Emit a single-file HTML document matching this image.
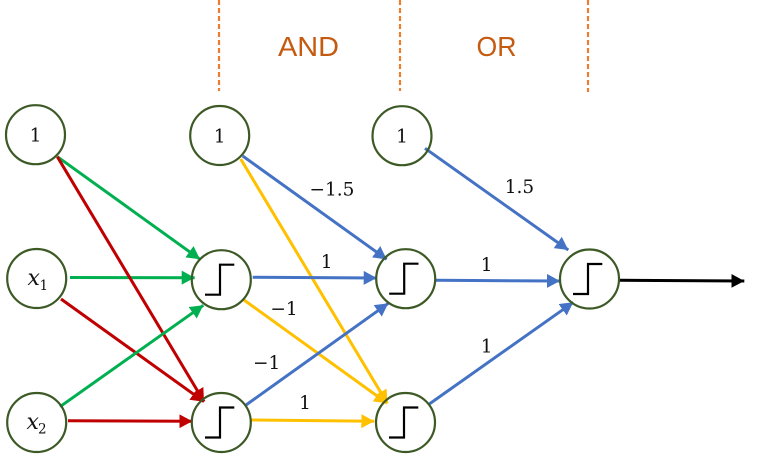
<!DOCTYPE html>
<html>
<head>
<meta charset="utf-8">
<style>
html,body{margin:0;padding:0;background:#fff;width:758px;height:469px;overflow:hidden}
svg{display:block}
.n{fill:none;stroke:#3d5a26;stroke-width:2.2}
.s{fill:none;stroke:#000;stroke-width:2.2}
.m{font-family:"DejaVu Serif",serif;font-size:18.5px;fill:#111;text-anchor:middle}
.i{font-family:"DejaVu Serif",serif;font-style:italic;font-size:22px;fill:#111}
.b{font-family:"DejaVu Serif",serif;font-size:13.5px;fill:#111}
.t{font-family:"Liberation Sans",sans-serif;font-size:28px;fill:#C55A11}
.g{stroke:#00B050}.r{stroke:#C00000}.u{stroke:#4472C4}.y{stroke:#FFC000}.k{stroke:#000}
line{stroke-width:3}
line.d{stroke:#ED7D31;stroke-width:2.2;stroke-dasharray:5 3}
</style>
</head>
<body>
<svg width="758" height="469" viewBox="0 0 758 469" xmlns="http://www.w3.org/2000/svg">
<defs>
<marker id="ag" markerUnits="userSpaceOnUse" markerWidth="15" markerHeight="15" refX="13" refY="7" orient="auto"><path d="M0 0L13 7L0 14z" fill="#00B050"/></marker>
<marker id="ar" markerUnits="userSpaceOnUse" markerWidth="15" markerHeight="15" refX="13" refY="7" orient="auto"><path d="M0 0L13 7L0 14z" fill="#C00000"/></marker>
<marker id="au" markerUnits="userSpaceOnUse" markerWidth="15" markerHeight="15" refX="13" refY="7" orient="auto"><path d="M0 0L13 7L0 14z" fill="#4472C4"/></marker>
<marker id="ay" markerUnits="userSpaceOnUse" markerWidth="15" markerHeight="15" refX="13" refY="7" orient="auto"><path d="M0 0L13 7L0 14z" fill="#FFC000"/></marker>
<marker id="ak" markerUnits="userSpaceOnUse" markerWidth="15" markerHeight="15" refX="13" refY="7" orient="auto"><path d="M0 0L13 7L0 14z" fill="#000"/></marker>
</defs>

<line class="d" x1="219" y1="0" x2="219" y2="91"/>
<line class="d" x1="400" y1="0" x2="400" y2="91"/>
<line class="d" x1="588" y1="0" x2="588" y2="92"/>
<text class="t" x="278" y="56" textLength="61" lengthAdjust="spacingAndGlyphs">AND</text>
<text class="t" x="476.500" y="56" textLength="40" lengthAdjust="spacingAndGlyphs">OR</text>

<line class="g" x1="57.300" y1="156.700" x2="200" y2="259.300" marker-end="url(#ag)"/>
<line class="g" x1="70" y1="277.500" x2="194.700" y2="277.700" marker-end="url(#ag)"/>
<line class="r" x1="57.300" y1="156.700" x2="204" y2="401.700" marker-end="url(#ar)"/>
<line class="r" x1="61" y1="299" x2="204" y2="401.700" marker-end="url(#ar)"/>
<line class="g" x1="60" y1="406.700" x2="203.300" y2="305.300" marker-end="url(#ag)"/>
<line class="r" x1="68" y1="420.700" x2="192.300" y2="421.300" marker-end="url(#ar)"/>

<line class="y" x1="240.700" y1="159" x2="387.300" y2="403.300" marker-end="url(#ay)"/>
<line class="y" x1="244" y1="300" x2="387.300" y2="403.300" marker-end="url(#ay)"/>
<line class="y" x1="250" y1="420" x2="374.300" y2="421.300" marker-end="url(#ay)"/>
<line class="u" x1="242.700" y1="156" x2="386.700" y2="259.300" marker-end="url(#au)"/>
<line class="u" x1="252.700" y1="277.300" x2="376.700" y2="278" marker-end="url(#au)"/>
<line class="u" x1="246" y1="405" x2="388.300" y2="303.300" marker-end="url(#au)"/>
<line class="u" x1="425" y1="148.300" x2="568.300" y2="250" marker-end="url(#au)"/>
<line class="u" x1="435.700" y1="280.300" x2="560" y2="281" marker-end="url(#au)"/>
<line class="u" x1="429.300" y1="404" x2="573.300" y2="302.300" marker-end="url(#au)"/>
<line class="k" x1="619.300" y1="280.300" x2="744.300" y2="281" marker-end="url(#ak)"/>

<circle class="n" cx="35.500" cy="134.700" r="29.500"/>
<circle class="n" cx="36.700" cy="278.500" r="29.500"/>
<circle class="n" cx="36.700" cy="422.500" r="29.500"/>
<circle class="n" cx="219.700" cy="135.500" r="29.500"/>
<circle class="n" cx="221.300" cy="279.700" r="29.500"/>
<circle class="n" cx="221.300" cy="422.500" r="29.500"/>
<circle class="n" cx="402" cy="135.700" r="29.500"/>
<circle class="n" cx="405.700" cy="278.700" r="29.500"/>
<circle class="n" cx="405.500" cy="422.500" r="29.500"/>
<circle class="n" cx="589.500" cy="279" r="29.500"/>

<path class="s" d="M205 294.700H220V264.700H234.300"/>
<path class="s" d="M205 437.500H220V407.500H234.300"/>
<path class="s" d="M389.200 293.700H404.200V263.700H418.500"/>
<path class="s" d="M389 437.500H404V407.500H418.300"/>
<path class="s" d="M573 294H588V264H602.300"/>

<text class="m" x="35.500" y="141.700">1</text>
<text class="m" x="219.700" y="142.700">1</text>
<text class="m" x="402" y="142.700">1</text>
<text class="i" x="27.500" y="285">x</text><text class="b" x="39.500" y="290">1</text>
<text class="i" x="26.500" y="429">x</text><text class="b" x="38" y="433.500">2</text>

<text class="m" x="332" y="195.700">−1.5</text>
<text class="m" x="519.500" y="193">1.5</text>
<text class="m" x="326.700" y="268">1</text>
<text class="m" x="486.700" y="271">1</text>
<text class="m" x="284" y="315">−1</text>
<text class="m" x="266.700" y="369">−1</text>
<text class="m" x="305" y="409">1</text>
<text class="m" x="486.700" y="352.300">1</text>
</svg>
</body>
</html>
